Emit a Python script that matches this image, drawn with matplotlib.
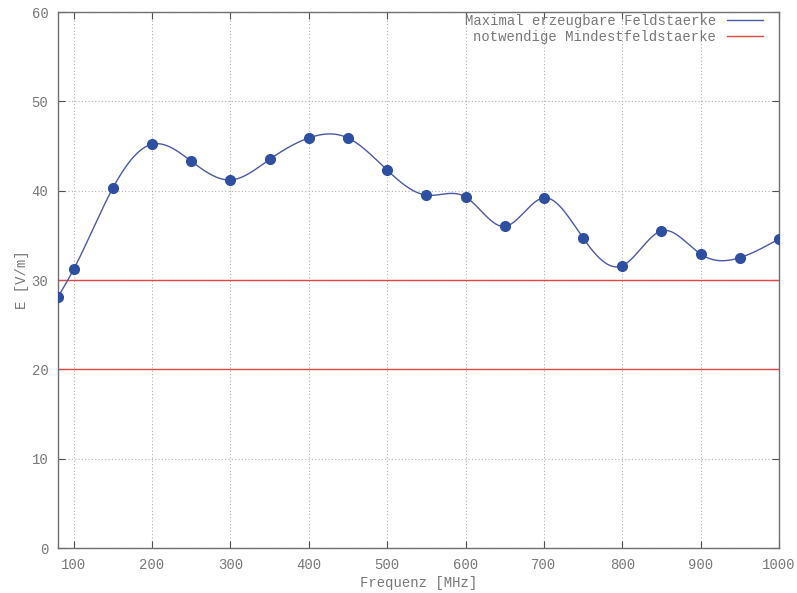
import numpy as np
import matplotlib
matplotlib.use("Agg")
import matplotlib.pyplot as plt

freq = [80, 100, 150, 200, 250, 300, 350, 400, 450, 500, 550, 600, 650, 700, 750, 800, 850, 900, 950, 1000]
e_max = [28.1, 31.2, 40.3, 45.2, 43.3, 41.2, 43.5, 45.9, 45.9, 42.3, 39.5, 39.3, 36.0, 39.2, 34.7, 31.6, 35.5, 32.9, 32.5, 34.6]
e_min_levels = [30, 20]
xticks = [100, 200, 300, 400, 500, 600, 700, 800, 900, 1000]
yticks = [0, 10, 20, 30, 40, 50, 60]


def natural_spline(x, y, n=800):
    x = np.asarray(x, float); y = np.asarray(y, float)
    N = len(x)
    h = np.diff(x)
    A = np.zeros((N, N)); b = np.zeros(N)
    A[0, 0] = 1; A[-1, -1] = 1
    for i in range(1, N - 1):
        A[i, i - 1] = h[i - 1]
        A[i, i] = 2 * (h[i - 1] + h[i])
        A[i, i + 1] = h[i]
        b[i] = 3 * ((y[i + 1] - y[i]) / h[i] - (y[i] - y[i - 1]) / h[i - 1])
    c = np.linalg.solve(A, b)
    xs = np.linspace(x[0], x[-1], n)
    ys = np.empty_like(xs)
    for k, xv in enumerate(xs):
        i = min(np.searchsorted(x, xv, side='right') - 1, N - 2)
        dx = xv - x[i]
        bi = (y[i + 1] - y[i]) / h[i] - h[i] * (2 * c[i] + c[i + 1]) / 3
        di = (c[i + 1] - c[i]) / (3 * h[i])
        ys[k] = y[i] + bi * dx + c[i] * dx ** 2 + di * dx ** 3
    return xs, ys


plt.rcParams['font.family'] = ['Liberation Mono', 'DejaVu Sans Mono']
fig = plt.figure(figsize=(7.97, 5.93), dpi=100)
ax = fig.add_axes([58 / 797, 45 / 593, (779 - 58) / 797, (548 - 12) / 593])

blue = '#4a58a8'
red = '#e04848'
txt = '#777777'

xs, ys = natural_spline(freq, e_max)
ax.plot(xs, ys, color=blue, lw=1.0, zorder=3, label='Maximal erzeugbare Feldstaerke')
ax.plot(freq, e_max, 'o', color='#2e4fa0', ms=7, zorder=4)
for i, lev in enumerate(e_min_levels):
    ax.axhline(lev, color=red, lw=1.0, zorder=2,
               label='notwendige Mindestfeldstaerke' if i == 0 else None)

ax.set_xlim(80, 1000)
ax.set_ylim(0, 60)
ax.set_xticks(xticks)
ax.set_yticks(yticks)
ax.grid(True, color='#b0b0b0', linestyle=(0, (1, 2)), lw=0.8)
ax.tick_params(direction='in', top=True, right=True, length=5, colors='#505050',
               labelcolor=txt, labelsize=10)
ax.tick_params(axis='y', pad=7)
ax.tick_params(axis='x', pad=7)
for s in ax.spines.values():
    s.set_color('#707070')
    s.set_linewidth(1.0)
ax.set_xlabel('Frequenz [MHz]', color=txt, fontsize=10, labelpad=3)
ax.set_ylabel('E [V/m]', color=txt, fontsize=10, labelpad=2)

leg = ax.legend(loc='upper right', frameon=False, fontsize=10, markerfirst=False,
                handlelength=2.6, labelspacing=0.15, borderpad=0, borderaxespad=0,
                handletextpad=0.8,
                bbox_to_anchor=((763 - 58) / 721, 1 - 2 / 536),
                bbox_transform=ax.transAxes)
for t in leg.get_texts():
    t.set_color(txt)
    t.set_ha('right')
fig.savefig('out.png', dpi=100)
